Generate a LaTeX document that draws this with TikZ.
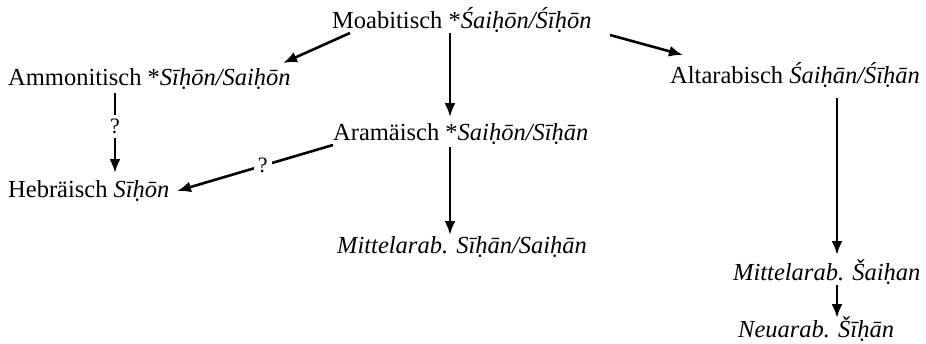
\documentclass[tikz,border=0pt]{standalone}
\usepackage{fontspec}
\setmainfont{Liberation Serif}
\usetikzlibrary{arrows.meta,calc}
\begin{document}
\begin{tikzpicture}[x=1pt,y=-1pt,
  lang/.style={anchor=base west, inner sep=0pt, font=\fontsize{24.5}{29}\selectfont},
  arr/.style={line width=2.6pt, -{Latex[length=14pt,width=11pt]}},
  qmark/.style={fill=white, inner xsep=4pt, inner ysep=4pt, font=\fontsize{22}{26}\selectfont}]
\useasboundingbox (0,0) rectangle (926,343);

% language stages
\node[lang] (moab)    at (332,28)  {Moabitisch *\textit{Śaiḥōn/Śīḥōn}};
\node[lang] (ammon)   at (8,85)    {Ammonitisch *\textit{Sīḥōn/Saiḥōn}};
\node[lang] (altar)   at (670,83)  {Altarabisch \textit{Śaiḥān/Śīḥān}};
\node[lang] (aram)    at (333,140) {Aramäisch *\textit{Saiḥōn/Sīḥān}};
\node[lang] (hebr)    at (8,197)   {Hebräisch \textit{Sīḥōn}};
\node[lang] (mittel)  at (337,253) {\textit{Mittelarab. Sīḥān/Saiḥān}};
\node[lang] (mittelS) at (733,280) {\textit{Mittelarab. Šaiḥan}};
\node[lang] (neu)     at (738,337) {\textit{Neuarab. Šīḥān}};

% derivations
\draw[arr] ($(moab.base west)+(18,5)$)   -- ($(ammon.base west)+(275,-22)$);
\draw[arr] ($(moab.base west)+(118,5)$)  -- ($(aram.base west)+(117,-23)$);
\draw[arr] ($(moab.base west)+(278,7)$)  -- ($(altar.base west)+(13,-28)$);
\draw[arr] ($(ammon.base west)+(107,8)$) -- node[qmark, pos=0.42] {?} ($(hebr.base west)+(107,-24)$);
\draw[arr] ($(aram.base west)+(0,5)$)    -- node[qmark, pos=0.45] {?} ($(hebr.base west)+(169,-6)$);
\draw[arr] ($(aram.base west)+(117,7)$)  -- ($(mittel.base west)+(113,-18)$);
\draw[arr] ($(altar.base west)+(167,15)$) -- ($(mittelS.base west)+(104,-25)$);
\draw[arr] ($(mittelS.base west)+(104,5)$) -- ($(neu.base west)+(99,-19)$);
\end{tikzpicture}
\end{document}
